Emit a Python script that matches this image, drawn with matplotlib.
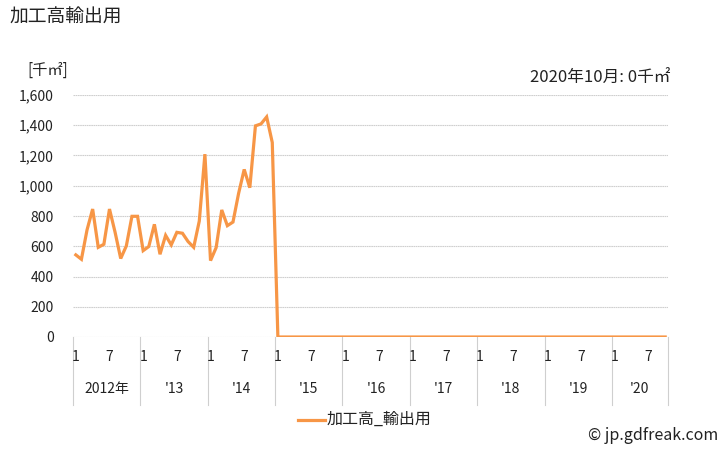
import matplotlib
matplotlib.use("Agg")
import matplotlib.pyplot as plt
import matplotlib.transforms as mtransforms

plt.rcParams['font.family'] = ['Noto Sans CJK JP', 'DejaVu Sans']

# monthly values 2012-01 .. 2020-10 (thousand m2)
vals_2012 = [543, 514, 708, 846, 593, 613, 846, 692, 519, 602, 798, 798]
vals_2013 = [571, 598, 745, 547, 672, 609, 692, 686, 631, 593, 767, 1209]
vals_2014 = [505, 591, 840, 736, 760, 949, 1108, 987, 1396, 1409, 1455, 1286]
vals_later = [0] * 70  # 2015-01 .. 2020-10 all zero
values = vals_2012 + vals_2013 + vals_2014 + vals_later

years = [2012, 2013, 2014, 2015, 2016, 2017, 2018, 2019, 2020]
year_labels = ["2012年", "'13", "'14", "'15", "'16", "'17", "'18", "'19", "'20"]
yticks = [0, 200, 400, 600, 800, 1000, 1200, 1400, 1600]

W, H = 728, 450
fig = plt.figure(figsize=(W / 100, H / 100), dpi=100)
ax = fig.add_axes([73 / W, 1 - 337 / H, (668 - 73) / W, (337 - 95) / H])

n = len(values)
x = [i + 0.5 for i in range(n)]
line_color = '#F79646'
ax.plot(x, values, color=line_color, lw=2.3, solid_joinstyle='miter', zorder=3)

ax.set_xlim(0, n)
ax.set_ylim(0, 1600)
ax.set_yticks(yticks)
ax.set_yticklabels([f"{v:,}" for v in yticks], fontsize=10, color='#222222')
ax.tick_params(axis='y', length=0, pad=14)
ax.set_xticks([])
for s in ax.spines.values():
    s.set_visible(False)
for v in yticks:
    ax.axhline(v, color='#cfcfcf', lw=0.8, ls=(0, (1.5, 0.5)), zorder=1)

# category axis: month numbers, year labels and separators
trans = mtransforms.blended_transform_factory(ax.transData, ax.transAxes)
sep_bottom = -(405 - 337) / 242
for k, (yr, lab) in enumerate(zip(years, year_labels)):
    start = k * 12
    ax.plot([start, start], [0, sep_bottom], transform=trans, color='#cfcfcf',
            lw=0.8, clip_on=False)
    ax.text(start + 0.5, -(357 - 337) / 242, "1", transform=trans, ha='center',
            va='center', fontsize=10, color='#222222')
    if start + 6 < n:
        ax.text(start + 6.5, -(357 - 337) / 242, "7", transform=trans, ha='center',
                va='center', fontsize=10, color='#222222')
    end = min(start + 12, n)
    ax.text((start + end) / 2, -(389 - 337) / 242, lab, transform=trans, ha='center',
            va='center', fontsize=10, color='#222222')
ax.plot([n, n], [0, sep_bottom], transform=trans, color='#cfcfcf', lw=0.8, clip_on=False)

# texts
fig.text(9 / W, 1 - 17 / H, "加工高輸出用", fontsize=13.5, ha='left', va='center', color='#222222')
fig.text(27 / W, 1 - 70 / H, "[千㎡]", fontsize=11, ha='left', va='center', color='#222222')
fig.text(670 / W, 1 - 78 / H, "2020年10月: 0千㎡", fontsize=12, ha='right', va='center', color='#222222')
fig.text(718 / W, 1 - 435 / H, "© jp.gdfreak.com", fontsize=11.5, ha='right', va='center', color='#222222')

# legend
fig.add_artist(plt.Line2D([298 / W, 325 / W], [1 - 420 / H, 1 - 420 / H], color=line_color, lw=2.3))
fig.text(327 / W, 1 - 419 / H, "加工高_輸出用", fontsize=11.5, ha='left', va='center', color='#222222')

fig.savefig("out.png", dpi=100)
